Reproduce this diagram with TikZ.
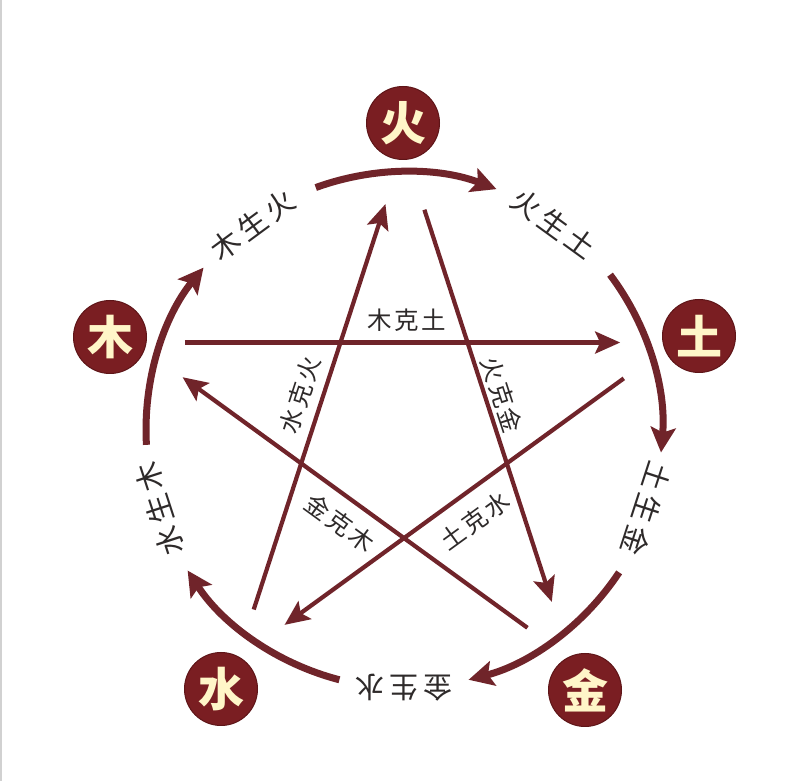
\documentclass[tikz,border=0pt]{standalone}
\usepackage{fontspec}
\newfontfamily\cjk{Noto Sans CJK SC}
\newfontfamily\arclblfont[LetterSpace=16]{Noto Sans CJK SC}
\newfontfamily\starlblfont[LetterSpace=10]{Noto Sans CJK SC}
\usetikzlibrary{arrows.meta,calc}
\definecolor{maroon}{HTML}{7A1E22}
\definecolor{maroondark}{HTML}{5E1518}
\definecolor{linecol}{HTML}{70242A}
\definecolor{cream}{HTML}{FFF6C8}
\definecolor{lbl}{HTML}{2E2A2A}
\tikzset{
  elem/.style={circle, fill=maroon, draw=maroondark, line width=1pt, minimum size=73pt, inner sep=0pt,
    text=cream, font=\cjk\bfseries\fontsize{46}{46}\selectfont},
  arclbl/.style={inner sep=0pt, text=lbl, font=\arclblfont\fontsize{29}{29}\selectfont},
  starlbl/.style={inner sep=0pt, text=lbl, font=\starlblfont\fontsize{24.5}{24.5}\selectfont},
  arcline/.style={draw=linecol, line width=7pt, -{Stealth[length=25pt,width=25pt,inset=5pt]}},
  starline/.style={draw=linecol, line width=4.2pt, -{Stealth[length=25pt,width=22pt,inset=5pt]}}
}
\begin{document}
\begin{tikzpicture}[x=1pt,y=1pt]
\useasboundingbox (0,0) rectangle (806,781);
\fill[white] (0,0) rectangle (806,781);
\draw[black!18, line width=1.5pt] (1,0) -- (1,781);
\coordinate (C) at (404,351);
% star vertices
\path (C) ++(90:283) coordinate (vT);
\path (C) ++(18:283) coordinate (vR);
\path (C) ++(-54:283) coordinate (vBR);
\path (C) ++(-126:283) coordinate (vBL);
\path (C) ++(162:283) coordinate (vL);
% elements
\node[elem] (huo) at (403,658) {火};
\node[elem] (tu) at (699,445) {土};
\node[elem] (jin) at (585,91) {金};
\node[elem] (shui) at (221,92) {水};
\node[elem] (mu) at (110,444) {木};
% generating cycle arcs
\draw[arcline] ($(C)+(110:258)$) arc[start angle=110, end angle=69, radius=258];
\draw[arcline] ($(C)+(37:258)$) arc[start angle=37, end angle=-5, radius=258];
\draw[arcline] ($(C)+(-33.5:258)$) arc[start angle=-33.5, end angle=-75.5, radius=258];
\draw[arcline] ($(C)+(-104.5:258)$) arc[start angle=-104.5, end angle=-147, radius=258];
\draw[arcline] ($(C)+(183.3:258)$) arc[start angle=183.3, end angle=141, radius=258];
% arc labels
\node[arclbl, rotate=36.4] (lmh) at ($(C)+(126.4:255)$) {木生火};
\node[arclbl, rotate=-36] (lht) at ($(C)+(54:255)$) {火生土};
\node[arclbl, rotate=-108] (ltj) at ($(C)+(-18:255)$) {土生金};
\node[arclbl, rotate=-180] (ljs) at ($(C)+(-90:258)$) {金生水};
\node[arclbl, rotate=108] (lsm) at ($(C)+(198:257)$) {水生木};
% controlling star
\draw[starline, shorten <=50pt, shorten >=53pt] (vL) -- (vR);
\draw[starline, shorten <=66pt, shorten >=60pt] (vT) -- (vBR);
\draw[starline, shorten <=61pt, shorten >=58pt] (vR) -- (vBL);
\draw[starline, shorten <=52pt, shorten >=60pt] (vBL) -- (vT);
\draw[starline, shorten <=53pt, shorten >=59pt] (vBR) -- (vL);
% star labels
\node[starlbl] (kmt) at (407,461) {木克土};
\node[starlbl, rotate=72] (ksh) at (300,386) {水克火};
\node[starlbl, rotate=-72] (khj) at (502,386) {火克金};
\node[starlbl, rotate=-36] (kjm) at (340,258) {金克木};
\node[starlbl, rotate=36] (kts) at (475,260) {土克水};
\end{tikzpicture}
\end{document}
